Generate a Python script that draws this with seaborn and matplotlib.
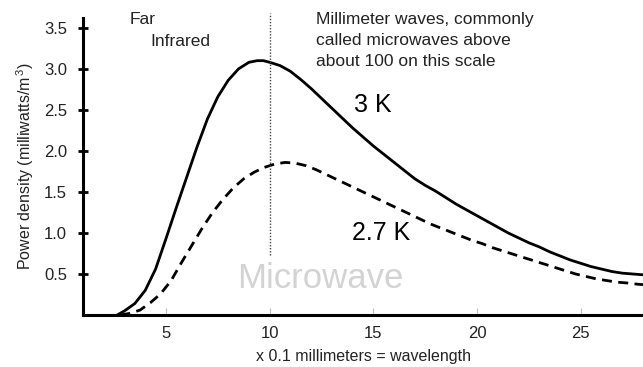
import matplotlib
matplotlib.use("Agg")
import matplotlib.pyplot as plt
import seaborn as sns
import pandas as pd

# ---- data ----
wavelength_3k = [2.65, 3.0, 3.5, 4.0, 4.5, 5.0, 5.5, 6.0, 6.5, 7.0, 7.5, 8.0, 8.5,
                 9.0, 9.4, 9.7, 10.0, 10.5, 11.0, 11.5, 12.0, 12.5, 13.0, 13.5,
                 14.0, 14.5, 15.0, 15.5, 16.0, 16.5, 17.0, 17.5, 18.0, 18.5, 19.0,
                 19.5, 20.0, 20.5, 21.0, 21.5, 22.0, 22.5, 23.0, 23.5, 24.0, 24.5,
                 25.0, 25.5, 26.0, 26.5, 27.0, 27.5, 28.0]
power_3k = [0.0, 0.05, 0.14, 0.30, 0.56, 0.93, 1.31, 1.68, 2.05, 2.39, 2.66, 2.86, 3.00,
            3.08, 3.10, 3.10, 3.08, 3.04, 2.97, 2.87, 2.76, 2.64, 2.52, 2.40,
            2.28, 2.17, 2.06, 1.96, 1.86, 1.76, 1.66, 1.58, 1.51, 1.43, 1.35,
            1.28, 1.21, 1.14, 1.07, 1.00, 0.94, 0.88, 0.83, 0.77, 0.72, 0.67,
            0.63, 0.59, 0.56, 0.53, 0.51, 0.50, 0.49]

wavelength_27k = [2.8, 3.25, 3.75, 4.25, 4.75, 5.25, 5.75, 6.25, 6.75, 7.25, 7.75, 8.25,
                  8.75, 9.25, 9.75, 10.25, 10.75, 11.25, 11.75, 12.25, 12.75, 13.25,
                  13.75, 14.25, 14.75, 15.25, 15.75, 16.25, 16.75, 17.25, 17.75, 18.25,
                  18.75, 19.25, 19.75, 20.25, 20.75, 21.25, 21.75, 22.25, 22.75, 23.25,
                  23.75, 24.25, 24.75, 25.25, 25.75, 26.25, 26.75, 27.25, 27.75, 28.0]
power_27k = [0.0, 0.02, 0.06, 0.15, 0.26, 0.42, 0.64, 0.85, 1.06, 1.25, 1.41, 1.55,
             1.66, 1.74, 1.80, 1.84, 1.86, 1.85, 1.82, 1.77, 1.71, 1.65,
             1.59, 1.53, 1.47, 1.41, 1.35, 1.29, 1.23, 1.17, 1.11, 1.06,
             1.01, 0.96, 0.91, 0.87, 0.82, 0.78, 0.74, 0.70, 0.66, 0.62,
             0.58, 0.54, 0.50, 0.47, 0.44, 0.42, 0.40, 0.39, 0.375, 0.37]

x_ticks = [5, 10, 15, 20, 25]
y_ticks = [0.5, 1.0, 1.5, 2.0, 2.5, 3.0, 3.5]
x_label = "x 0.1 millimeters = wavelength"
y_label = r"Power density (milliwatts/m$^{\,\mathrm{3}}$)"
boundary_x = 10
boundary_y = [0.73, 3.68]
mm_lines = ["Millimeter waves, commonly", "called microwaves above", "about 100 on this scale"]

sns.set_style("white")
plt.rcParams["font.family"] = ["Liberation Sans", "DejaVu Sans"]
plt.rcParams["mathtext.fontset"] = "custom"
plt.rcParams["mathtext.rm"] = "Liberation Sans"
plt.rcParams["mathtext.it"] = "Liberation Sans:italic"

fig = plt.figure(figsize=(6.43, 3.67), dpi=100)
ax = fig.add_axes([83 / 643, 1 - 315 / 367, (643 - 83) / 643, (315 - 18) / 367])

df3 = pd.DataFrame({"wl": wavelength_3k, "p": power_3k})
df27 = pd.DataFrame({"wl": wavelength_27k, "p": power_27k})
sns.lineplot(data=df3, x="wl", y="p", ax=ax, color="black", lw=2.0,
             estimator=None, sort=False, solid_joinstyle="round", solid_capstyle="round")
sns.lineplot(data=df27, x="wl", y="p", ax=ax, color="black", lw=2.0,
             estimator=None, sort=False, linestyle=(0, (3.6, 2.3)),
             dash_joinstyle="round")

ax.plot([boundary_x, boundary_x], boundary_y, color="#444444", lw=1.0,
        linestyle=(0, (1, 1.2)), clip_on=False)

ax.set_xlim(1, 28)
ax.set_ylim(0, 3.62)
ax.set_xticks(x_ticks)
ax.set_yticks(y_ticks)
ax.set_xticklabels([str(v) for v in x_ticks])
ax.set_yticklabels([f"{v:.1f}" for v in y_ticks])
ax.tick_params(axis="y", direction="inout", length=7, width=2, color="black",
               labelsize=12, pad=8, left=True, labelcolor="#222222")
ax.tick_params(axis="x", direction="in", length=5, width=0.8, color="#bbbbbb",
               labelsize=12, pad=8, bottom=True, labelcolor="#222222")

for s in ["top", "right"]:
    ax.spines[s].set_visible(False)
for s in ["left", "bottom"]:
    ax.spines[s].set_linewidth(2.2)
    ax.spines[s].set_color("black")

ax.set_xlabel(x_label, fontsize=11.5, labelpad=6, color="#222222")
ax.set_ylabel(y_label, fontsize=11.5, labelpad=6, color="#222222")

fs = 12.5
ax.text(3.27, 3.6, "Far", fontsize=fs, ha="left", va="center", color="#222222")
ax.text(4.23, 3.33, "Infrared", fontsize=fs, ha="left", va="center", color="#222222")
for line, yy in zip(mm_lines, [3.6, 3.34, 3.09]):
    ax.text(12.23, yy, line, fontsize=fs, ha="left", va="center", color="#222222")
ax.text(14.98, 2.56, "3 K", fontsize=18, ha="center", va="center", color="black")
ax.text(15.37, 1.0, "2.7 K", fontsize=18, ha="center", va="center", color="black")
ax.text(12.43, 0.45, "Microwave", fontsize=25, ha="center", va="center", color="#d3d3d3")

fig.savefig("out.png", dpi=100)
